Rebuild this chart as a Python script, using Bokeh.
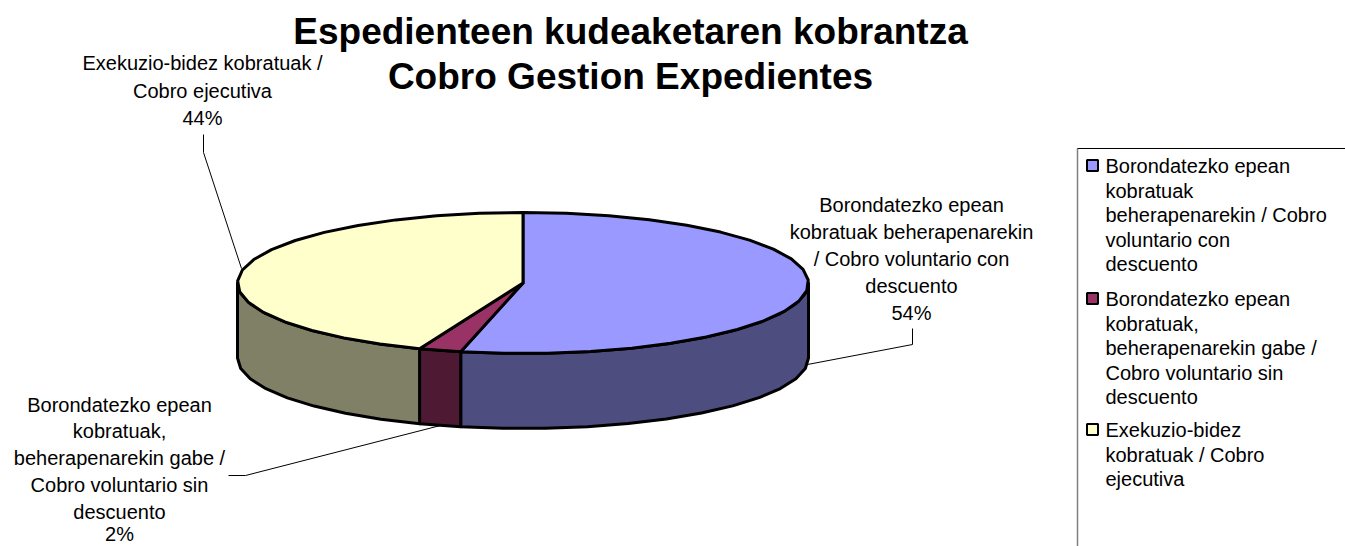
import math
from bokeh.plotting import figure
from bokeh.models import Range1d
from bokeh.core.properties import value
from bokeh.embed import file_html
from bokeh.resources import INLINE

WIDTH, HEIGHT = 1345, 546
title_lines = ["Espedienteen kudeaketaren kobrantza", "Cobro Gestion Expedientes"]
shares = [53.5, 2.4, 44.1]
top_colors = ["#9999FF", "#993366", "#FFFFCC"]
side_colors = ["#4D4D80", "#4D1933", "#808066"]
label_lines = [
    ["Borondatezko epean", "kobratuak beherapenarekin", "/ Cobro voluntario con", "descuento", "54%"],
    ["Borondatezko epean", "kobratuak,", "beherapenarekin gabe /", "Cobro voluntario sin", "descuento", "2%"],
    ["Exekuzio-bidez kobratuak /", "Cobro ejecutiva", "44%"],
]
legend_lines = [
    ["Borondatezko epean", "kobratuak", "beherapenarekin / Cobro", "voluntario con", "descuento"],
    ["Borondatezko epean", "kobratuak,", "beherapenarekin gabe /", "Cobro voluntario sin", "descuento"],
    ["Exekuzio-bidez", "kobratuak / Cobro", "ejecutiva"],
]

# layout (pixels from the page's corner)
CX, CY, RX, RY, DEPTH = 522.5, 282.5, 285.5, 70.5, 75
STEP = 9
FONT = "Liberation Sans"

p = figure(width=WIDTH, height=HEIGHT, output_backend="svg", toolbar_location=None,
           x_range=Range1d(0, WIDTH), y_range=Range1d(HEIGHT, 0), min_border=0,
           outline_line_color=None, background_fill_color="white", border_fill_color="white",
           styles={"position": "absolute", "left": "0px", "top": "0px"})
p.xaxis.visible = False
p.yaxis.visible = False
p.grid.visible = False


def point(deg, dy=0.0):
    a = math.radians(deg)
    return CX + RX * math.sin(a), CY - RY * math.cos(a) + dy


def arc(a0, a1, dy=0.0):
    n = max(1, int(math.ceil((a1 - a0) / STEP)))
    return [point(a0 + (a1 - a0) * i / n, dy) for i in range(n + 1)]


# slice angles measured clockwise from the top
total = sum(shares)
edges = [0.0]
for s in shares:
    edges.append(edges[-1] + 360.0 * s / total)

# walls: only the front half (90 to 270 degrees) is seen
for i in range(len(shares)):
    a0, a1 = max(edges[i], 90.0), min(edges[i + 1], 270.0)
    if a1 <= a0:
        continue
    front = arc(a0, a1)
    back = arc(a0, a1, DEPTH)[::-1]
    pts = front + back
    p.patch([q[0] for q in pts], [q[1] for q in pts], fill_color=side_colors[i],
            line_color="black", line_width=3, line_join="round")

# top faces
for i in range(len(shares)):
    pts = [(CX, CY)] + arc(edges[i], edges[i + 1])
    p.patch([q[0] for q in pts], [q[1] for q in pts], fill_color=top_colors[i],
            line_color="black", line_width=3, line_join="round")

# leader lines
leaders = [
    ([807, 912, 912], [364, 344, 328]),
    ([440, 245, 228], [425, 475, 475]),
    ([241, 203, 203], [268, 152, 134]),
]
for xs, ys in leaders:
    p.line(xs, ys, line_color="black", line_width=1)


def text_block(lines, xs, ys, size, align="center", style="normal"):
    p.text(x=xs, y=ys, text=lines, text_font=value(FONT), text_font_size=size,
           text_font_style=style, text_align=align, text_baseline="middle", text_color="black")


text_block(title_lines, [630, 630], [31, 76], "37px", style="bold")
text_block(label_lines[0], [911] * 5, [204, 231, 258, 285, 312], "20px")
text_block(label_lines[1], [119] * 6, [404, 430, 457, 484, 511, 533], "20px")
text_block(label_lines[2], [202] * 3, [62, 90, 117], "20px")

# legend
p.line([1077, 1077], [148, 546], line_color="#808080", line_width=1.5)
p.line([1077, 1345], [148, 148], line_color="black", line_width=1)
legend_ys = [[165, 190, 214, 239, 263], [298, 323, 347, 372, 396], [429, 454, 478]]
for i, ys in enumerate(legend_ys):
    p.rect([1092], [ys[0]], width=11, height=11, fill_color=top_colors[i],
           line_color="black", line_width=2)
    text_block(legend_lines[i], [1105] * len(ys), ys, "20px", align="left")

open("out.html", "w").write(file_html(p, INLINE))
